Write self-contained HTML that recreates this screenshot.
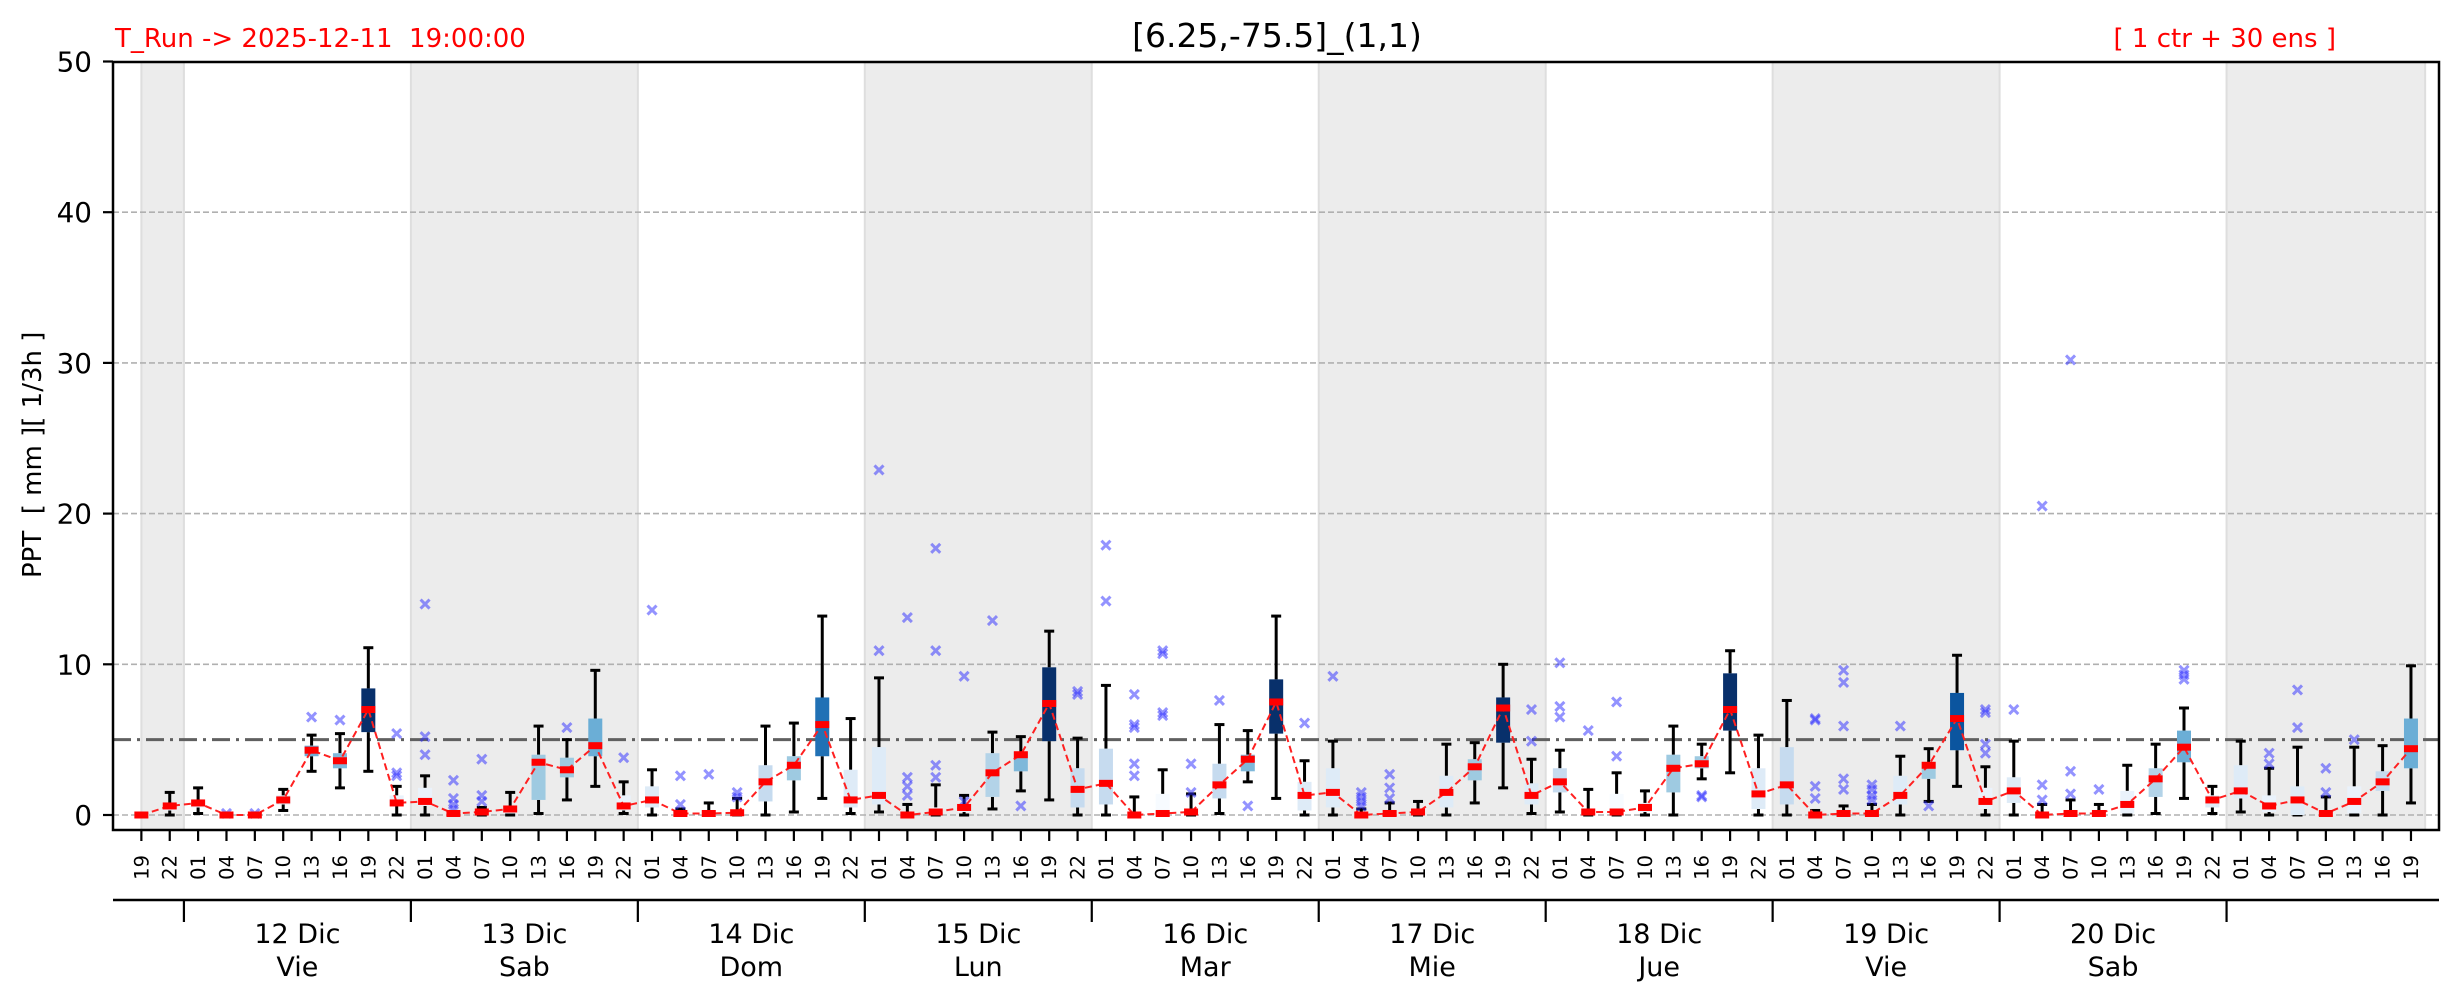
<!DOCTYPE html>
<html><head><meta charset="utf-8">
<style>
html,body{margin:0;padding:0;background:#fff;}
svg{display:block;font-family:"DejaVu Sans","Liberation Sans",sans-serif;}
text{white-space:pre;}
</style></head>
<body>
<svg id="s" width="2459" height="1001" viewBox="0 0 2459 1001" xmlns="http://www.w3.org/2000/svg" xml:space="preserve">
<rect width="2459" height="1001" fill="#fff"/>
<g id="bands"></g>
<g id="grid"></g>
<g id="plot"></g>
<rect x="113" y="62" width="2326" height="768" fill="none" stroke="#000" stroke-width="2.5"/>
<g id="axes"></g>
<text x="115" y="47" font-size="26" fill="#ff0000">T_Run -&gt; 2025-12-11  19:00:00</text>
<text x="1277" y="47" font-size="33" text-anchor="middle" fill="#000">[6.25,-75.5]_(1,1)</text>
<text x="2336" y="47" font-size="26" text-anchor="end" fill="#ff0000">[ 1 ctr + 30 ens ]</text>
<text transform="translate(41,578) rotate(-90)" font-size="26" fill="#000">PPT  [ mm ][ 1/3h ]</text>
</svg>
<script>
const NS="http://www.w3.org/2000/svg";
function el(p,t,a,txt){const e=document.createElementNS(NS,t);for(const k in a)e.setAttribute(k,a[k]);if(txt!==undefined)e.textContent=txt;document.getElementById(p).appendChild(e);return e;}
const X=i=>113+(i+1)*28.37, Y=v=>815-v*15.07;
[[0,1.5],[9.5,17.5],[25.5,33.5],[41.5,49.5],[57.5,65.5],[73.5,80.5]].forEach(b=>{
 el("bands","rect",{x:X(b[0]),y:62,width:X(b[1])-X(b[0]),height:768,fill:"#ececec",stroke:"#dedede","stroke-width":2});
});
[0,10,20,30,40].forEach(v=>el("grid","line",{x1:113,x2:2439,y1:Y(v),y2:Y(v),stroke:"#b0b0b0","stroke-width":1.6,"stroke-dasharray":"6,3"}));
el("grid","line",{x1:113,x2:2439,y1:Y(5),y2:Y(5),stroke:"#606060","stroke-width":3,"stroke-dasharray":"18,6,3,6"});
const D=[
[0,0,0,0,0,[]],[0.6,0.3,0.8,0,1.5,[]],[0.8,0.5,1.0,0.1,1.8,[]],[0,0,0,0,0,[0.1]],[0,0,0,0,0,[0.1]],
[1.0,0.7,1.3,0.3,1.7,[]],[4.3,3.9,4.6,2.9,5.3,[6.5]],[3.6,3.1,4.1,1.8,5.4,[6.3]],[7.0,5.5,8.4,2.9,11.1,[]],
[0.8,0.6,1.3,0,1.9,[2.6,2.8,5.4]],[0.9,0.6,1.8,0,2.6,[4.0,5.2,14.0]],[0.1,0,0.2,0,0.2,[0.4,0.7,1.1,2.3]],
[0.2,0,0.3,0,0.5,[0.9,1.3,3.7]],[0.4,0.1,0.5,0,1.5,[]],[3.5,1.0,4.0,0.1,5.9,[]],[3.0,2.5,3.8,1.0,5.0,[5.8]],
[4.6,3.9,6.4,1.9,9.6,[]],[0.6,0.3,1.3,0.1,2.2,[3.8]],
[1.0,0.5,1.9,0,3.0,[13.6]],[0.1,0,0.2,0,0.4,[0.7,2.6]],[0.1,0,0.2,0,0.8,[2.7]],[0.15,0,0.2,0,1.1,[1.2,1.5]],
[2.2,0.9,3.3,0,5.9,[]],[3.3,2.3,3.9,0.2,6.1,[]],[6.0,3.9,7.8,1.1,13.2,[]],[1.0,0.5,3.0,0.1,6.4,[]],
[1.3,0.7,4.5,0.2,9.1,[22.9,10.9]],[0,0,0.1,0,0.7,[1.3,1.9,2.5,13.1]],[0.2,0.1,0.5,0,2.0,[2.5,3.3,10.9,17.7]],
[0.5,0.2,0.6,0,1.3,[0.9,9.2]],[2.8,1.2,4.1,0.4,5.5,[12.9]],[4.0,2.9,4.2,1.6,5.2,[0.6]],[7.4,4.9,9.8,1.0,12.2,[]],
[1.7,0.5,3.1,0,5.1,[8.0,8.2]],
[2.1,0.7,4.4,0,8.6,[17.9,14.2]],[0,0,0.2,0,1.2,[8.0,5.8,6.0,3.4,2.6]],[0.1,0,1.4,0,3.0,[10.7,10.9,6.6,6.8]],
[0.2,0,0.3,0,1.4,[3.4,1.5]],[2.0,1.1,3.4,0.1,6.0,[7.6]],[3.7,2.9,4.0,2.2,5.6,[0.6]],[7.5,5.4,9.0,1.1,13.2,[]],
[1.3,0.3,2.2,0,3.6,[6.1]],[1.5,0.5,3.1,0,4.9,[9.2]],[0,0,0.1,0,0.4,[0.6,0.9,1.2,1.5]],[0.1,0,0.1,0,0.8,[1.1,1.8,2.7]],
[0.2,0,0.3,0,0.9,[]],[1.5,0.5,2.6,0,4.7,[]],[3.2,2.3,3.7,0.8,4.8,[]],[7.1,4.8,7.8,1.8,10.0,[]],
[1.3,0.7,2.1,0.1,3.7,[7.0,4.9]],
[2.2,1.5,3.1,0.2,4.3,[10.1,7.2,6.5]],[0.2,0,0.3,0,1.7,[5.6]],[0.2,0,1.4,0,2.8,[7.5,3.9]],[0.5,0.2,0.8,0,1.6,[]],
[3.1,1.5,4.0,0,5.9,[]],[3.4,3.1,3.9,2.4,4.7,[1.2,1.3]],[7.0,5.6,9.4,2.8,10.9,[]],[1.4,0.4,3.1,0,5.3,[]],
[2.0,0.7,4.5,0,7.6,[]],[0,0,0.1,0,0.3,[6.3,6.4,1.9,1.1]],[0.1,0,0.2,0,0.6,[9.6,8.8,5.9,2.4,1.7]],
[0.1,0,0.2,0,0.7,[1.0,1.3,1.7,2.0]],[1.3,0.7,2.6,0,3.9,[5.9]],[3.3,2.4,3.5,0.9,4.4,[0.6]],[6.4,4.3,8.1,1.9,10.6,[]],
[0.9,0.4,1.8,0,3.2,[6.8,7.0,4.7,4.1]],
[1.6,0.8,2.5,0,4.9,[7.0]],[0,0,0.1,0,0.7,[2.0,1.0,32.2]],[0.1,0,0.2,0,1.0,[2.9,1.4,1.6]],[0.1,0,0.2,0,0.7,[1.7]],
[0.7,0.1,1.6,0,3.3,[]],[2.4,1.2,3.1,0.1,4.7,[]],[4.5,3.5,5.6,1.1,7.1,[9.0,9.3,9.6]],[1.0,0.5,1.3,0.1,1.9,[]],
[1.6,1.1,3.3,0.2,4.9,[]],[0.6,0.2,1.3,0,3.1,[4.1,3.4]],[1.0,0,1.9,0,4.5,[8.3,5.8]],[0.1,0,0.3,0,1.2,[3.1,1.5]],
[0.9,0.1,1.9,0,4.5,[5.0]],[2.2,1.6,2.9,0,4.6,[]],[4.4,3.1,6.4,0.8,9.9,[]]
];
D[67][5]=[2.0,1.0,20.5];D[68][5]=[2.9,1.4,30.2];
const cols=["#f7fbff","#eaf2fb","#deebf7","#c6dbef","#b3d3e8","#9ecae1","#7fb8da","#6baed6","#4292c6","#2171b5","#0b559f","#08306b"];
function col(m){let t=m/7.2;if(t>1)t=1;return cols[Math.round(t*(cols.length-1))];}
const hw=7;
let pts=[];
D.forEach((d,i)=>{
 const x=X(i);const [m,q1,q3,wl,wh,out]=d;
 if(wh>q3) el("plot","line",{x1:x,x2:x,y1:Y(q3),y2:Y(wh),stroke:"#000","stroke-width":3});
 if(q1>wl) el("plot","line",{x1:x,x2:x,y1:Y(wl),y2:Y(q1),stroke:"#000","stroke-width":3});
 el("plot","line",{x1:x-5,x2:x+5,y1:Y(wh),y2:Y(wh),stroke:"#000","stroke-width":3});
 el("plot","line",{x1:x-5,x2:x+5,y1:Y(wl),y2:Y(wl),stroke:"#000","stroke-width":3});
 if(q3>q1) el("plot","rect",{x:x-hw,y:Y(q3),width:2*hw,height:Y(q1)-Y(q3),fill:col(m)});
 out.forEach(o=>{const y=Y(o);el("plot","path",{d:`M${x-4.5},${y-4.5}L${x+4.5},${y+4.5}M${x-4.5},${y+4.5}L${x+4.5},${y-4.5}`,stroke:"rgba(40,40,255,0.5)","stroke-width":3});});
 pts.push(x+","+Y(m));
});
el("plot","polyline",{points:pts.join(" "),fill:"none",stroke:"#ff2020","stroke-width":2,"stroke-dasharray":"7,4"});
D.forEach((d,i)=>{const x=X(i);el("plot","rect",{x:x-hw,y:Y(d[0])-3.5,width:2*hw,height:7,fill:"#ff0000"});});
[0,10,20,30,40,50].forEach(v=>{
 el("axes","line",{x1:103,x2:113,y1:Y(v),y2:Y(v),stroke:"#000","stroke-width":2.2});
 el("axes","text",{x:92,y:Y(v)+10,"font-size":27.8,"text-anchor":"end",fill:"#000"},String(v));
});
const hrs=["19","22"];for(let d=0;d<9;d++)hrs.push("01","04","07","10","13","16","19","22");hrs.push("01","04","07","10","13","16","19");
hrs.forEach((h,i)=>{const x=X(i);
 el("axes","line",{x1:x,x2:x,y1:830,y2:841,stroke:"#000","stroke-width":2.2});
 el("axes","text",{transform:`translate(${x+7},855) rotate(-90)`,"font-size":19.5,"text-anchor":"end",fill:"#000"},h);
});
el("axes","line",{x1:113,x2:2439,y1:900,y2:900,stroke:"#000","stroke-width":2.5});
const days=[["12 Dic","Vie"],["13 Dic","Sab"],["14 Dic","Dom"],["15 Dic","Lun"],["16 Dic","Mar"],["17 Dic","Mie"],["18 Dic","Jue"],["19 Dic","Vie"],["20 Dic","Sab"]];
for(let k=0;k<10;k++){const x=X(1.5+8*k);el("axes","line",{x1:x,x2:x,y1:900,y2:922,stroke:"#000","stroke-width":2.2});}
days.forEach((d,k)=>{const x=X(5.5+8*k);
 el("axes","text",{x:x,y:943,"font-size":27,"text-anchor":"middle",fill:"#000"},d[0]);
 el("axes","text",{x:x,y:976,"font-size":27,"text-anchor":"middle",fill:"#000"},d[1]);
});
</script>
</body></html>
